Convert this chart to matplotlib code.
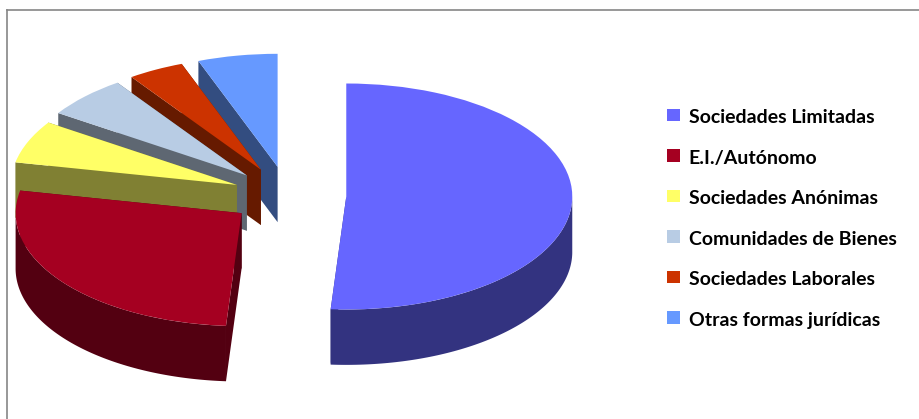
import matplotlib
matplotlib.use("Agg")
import matplotlib.pyplot as plt
import numpy as np
from matplotlib.legend_handler import HandlerPatch
from matplotlib.lines import Line2D
from matplotlib.patches import Polygon, Wedge

plt.rcParams['font.family'] = ['Lato', 'DejaVu Sans']

# Datos (%)
categorias = ["Sociedades Limitadas", "E.I./Autónomo", "Sociedades Anónimas",
              "Comunidades de Bienes", "Sociedades Laborales", "Otras formas jurídicas"]
valores = [51.1, 27.1, 6.1, 6.0, 4.0, 5.7]

colores = ["#6666FF", "#A50021", "#FFFF66", "#B8CCE4", "#CC3300", "#6699FF"]
colores_lado = ["#333380", "#530011", "#808033", "#5E6772", "#661A00", "#334D80"]
separacion = [0.258, 0.258, 0.245, 0.255, 0.258, 0.258]

W, H = 919, 419
fondo = 0.49  # grosor del pastel en unidades de y

fig = plt.figure(figsize=(W / 100, H / 100), dpi=100)
ax = fig.add_axes([0, 0, 1, 1])

wedges, _ = ax.pie(valores, colors=colores, explode=separacion,
                   startangle=90, counterclock=False, radius=1,
                   wedgeprops={'linewidth': 0})

# Laterales: se pintan de atras hacia delante
for i, (w, c) in enumerate(zip(wedges, colores_lado)):
    z = 10 * (len(wedges) - i)
    w.set_zorder(z + 1)
    cx, cy = w.center
    for t in (w.theta1, w.theta2):
        px = cx + np.cos(np.radians(t))
        py = cy + np.sin(np.radians(t))
        cara = [(cx, cy), (px, py), (px, py - fondo), (cx, cy - fondo)]
        ax.add_patch(Polygon(cara, closed=True, fc=c, lw=0, zorder=z))
    th = np.radians(np.linspace(w.theta1, w.theta2, 200))
    th = th[np.sin(th) <= 0]
    if len(th) > 1:
        xs = cx + np.cos(th)
        ys = cy + np.sin(th)
        borde = np.vstack([np.column_stack([xs, ys]),
                           np.column_stack([xs, ys - fondo])[::-1]])
        ax.add_patch(Polygon(borde, closed=True, fc=c, lw=0, zorder=z))

# Escalas distintas en x e y para aplastar el circulo
ax.set_aspect('auto')
ax.set_xlim((0 - 288) / 226, (W - 288) / 226)
ax.set_ylim((195.5 - H) / 113, 195.5 / 113)

# ypad sube un poco los cuadrados respecto al texto
leg = ax.legend(wedges, categorias, loc='upper left',
                bbox_to_anchor=(661 / W, 1 - 103 / H), bbox_transform=fig.transFigure,
                frameon=False, fontsize=14, labelspacing=1.2, handlelength=0.67,
                handleheight=0.8, handletextpad=0.46, borderpad=0.3, borderaxespad=0,
                handler_map={Wedge: HandlerPatch(xpad=0, ypad=0.13)})
for t in leg.get_texts():
    t.set_fontweight('bold')
    t.set_color('black')

# Marco del grafico (solo arriba e izquierda)
gris = "#868686"
fig.add_artist(Line2D([6.5 / W, 6.5 / W], [0, 1 - 10.5 / H], color=gris, lw=1.2))
fig.add_artist(Line2D([6.5 / W, 1], [1 - 10.5 / H, 1 - 10.5 / H], color=gris, lw=1.2))

fig.savefig("out.png", dpi=100)
